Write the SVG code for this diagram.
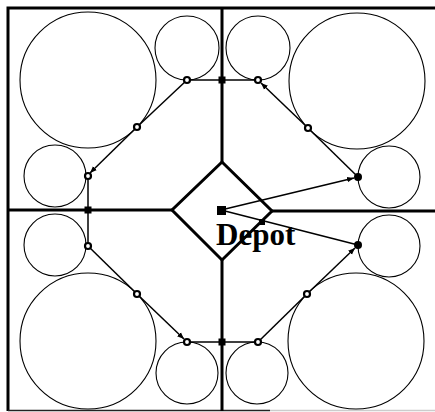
<svg xmlns="http://www.w3.org/2000/svg" width="435" height="412" viewBox="0 0 435 412">
<style>
.frame{fill:none;stroke:#000;stroke-width:3}
.circ{fill:none;stroke:#000;stroke-width:1.1}
.route{fill:none;stroke:#000;stroke-width:1.5}
.open{fill:#fff;stroke:#000;stroke-width:2.2}
.fill{fill:#000}
.sq{fill:#000}
.lbl{font-family:"Liberation Serif","Times New Roman",serif;font-weight:bold;font-size:31px;fill:#000}
</style>
<defs>
<marker id="ah" viewBox="0 0 10 10" refX="10" refY="5" markerWidth="7" markerHeight="7" orient="auto" markerUnits="userSpaceOnUse">
<path d="M0,1 L10,5 L0,9 Z" fill="#000"/>
</marker>
</defs>
<rect width="435" height="412" fill="#fff"/>
<g id="frame">
<path class="frame" d="M8,411 L8,8 L435,8"/>
<line x1="8" y1="410.5" x2="270" y2="410.5" stroke="#222" stroke-width="1.5"/>
<line x1="270" y1="410.5" x2="435" y2="410.5" stroke="#ccc" stroke-width="1.5"/>
<path class="frame" d="M222,8 L222,162 M222,260 L222,411 M8,210 L172,210 M272,211 L435,211"/>
</g>
<g id="depot-area">
<path class="frame" d="M222,162 L272,211 L222,260 L172,210 Z"/>
</g>
<g id="circles">
<circle class="circ" cx="88" cy="80" r="68"/>
<circle class="circ" cx="187" cy="48" r="32"/>
<circle class="circ" cx="55" cy="176" r="31"/>
<circle class="circ" cx="258" cy="48" r="32"/>
<circle class="circ" cx="357" cy="81" r="68"/>
<circle class="circ" cx="389" cy="177" r="31"/>
<circle class="circ" cx="55" cy="245" r="31"/>
<circle class="circ" cx="88" cy="341" r="68"/>
<circle class="circ" cx="187" cy="373" r="31"/>
<circle class="circ" cx="389" cy="246" r="31"/>
<circle class="circ" cx="356" cy="341" r="68"/>
<circle class="circ" cx="257" cy="373" r="31"/>
</g>
<g id="connectors">
<line class="route" x1="221" y1="210" x2="354" y2="178" marker-end="url(#ah)"/>
<line class="route" x1="358" y1="177" x2="308" y2="128"/>
<line class="route" x1="308" y1="128" x2="261" y2="83" marker-end="url(#ah)"/>
<line class="route" x1="258" y1="80" x2="187" y2="80"/>
<line class="route" x1="187" y1="80" x2="137" y2="127"/>
<line class="route" x1="137" y1="127" x2="90" y2="173" marker-end="url(#ah)"/>
<line class="route" x1="88" y1="176" x2="88" y2="246"/>
<line class="route" x1="88" y1="246" x2="137" y2="294"/>
<line class="route" x1="137" y1="294" x2="184" y2="339" marker-end="url(#ah)"/>
<line class="route" x1="187" y1="342" x2="258" y2="342"/>
<line class="route" x1="258" y1="342" x2="307" y2="294"/>
<line class="route" x1="307" y1="294" x2="355" y2="248" marker-end="url(#ah)"/>
<line class="route" x1="358" y1="245" x2="221" y2="210"/>
</g>
<g id="node-depot">
<rect class="sq" x="217" y="206" width="9" height="9"/>
<rect class="sq" x="259" y="219" width="6" height="6"/>
<text class="lbl" x="216" y="245">Depot</text>
</g>
<g id="node-squares">
<rect class="sq" x="218.5" y="76.5" width="7" height="7"/>
<rect class="sq" x="84.5" y="206.5" width="7" height="7"/>
<rect class="sq" x="218.5" y="338.5" width="7" height="7"/>
</g>
<g id="node-points">
<circle class="open" cx="187" cy="80" r="3"/>
<circle class="open" cx="137" cy="127" r="3"/>
<circle class="open" cx="88" cy="176" r="3"/>
<circle class="open" cx="258" cy="80" r="3"/>
<circle class="open" cx="308" cy="128" r="3"/>
<circle class="fill" cx="358" cy="177" r="4"/>
<circle class="open" cx="88" cy="246" r="3"/>
<circle class="open" cx="137" cy="294" r="3"/>
<circle class="open" cx="187" cy="342" r="3"/>
<circle class="open" cx="258" cy="342" r="3"/>
<circle class="open" cx="307" cy="294" r="3"/>
<circle class="fill" cx="358" cy="245" r="4"/>
</g>
</svg>
